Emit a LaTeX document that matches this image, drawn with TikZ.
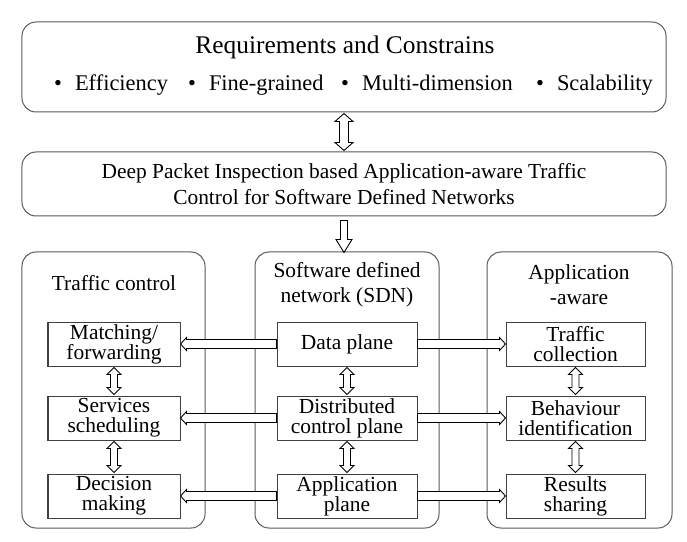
\documentclass[tikz,border=0pt]{standalone}
\usepackage{fontspec}
\setmainfont{Liberation Serif}
\usetikzlibrary{calc}
\begin{document}
\begin{tikzpicture}[x=1bp,y=-1bp,
  panel/.style={draw=black!65, rounded corners=14bp, line width=1bp, inner sep=0pt},
  box/.style={draw=black!75, line width=1bp, minimum width=133bp, minimum height=44bp, inner sep=0pt, align=center, font=\fontsize{21.5}{20}\selectfont},
  head/.style={align=center, font=\fontsize{21.5}{25}\selectfont, inner sep=0pt},
  blk/.style={draw=black, fill=white, line width=0.9bp, line join=miter},
  % horizontal single block arrow: shaft half-width, head half-width, head length
  hblock/.style n args={3}{blk, to path={let \p1=(\tikztostart),\p2=(\tikztotarget),\n1={sign(\x2-\x1)} in
     (\x1,\y1+#1) -- (\x2-\n1*#3,\y1+#1) -- (\x2-\n1*#3,\y1+#2) -- (\x2,\y1) -- (\x2-\n1*#3,\y1-#2) -- (\x2-\n1*#3,\y1-#1) -- (\x1,\y1-#1) -- cycle}},
  % vertical single block arrow
  vblock/.style n args={3}{blk, to path={let \p1=(\tikztostart),\p2=(\tikztotarget),\n1={sign(\y2-\y1)} in
     (\x1+#1,\y1) -- (\x1+#1,\y2-\n1*#3) -- (\x1+#2,\y2-\n1*#3) -- (\x1,\y2) -- (\x1-#2,\y2-\n1*#3) -- (\x1-#1,\y2-\n1*#3) -- (\x1-#1,\y1) -- cycle}},
  % vertical double-headed block arrow
  vdbl/.style n args={3}{blk, to path={let \p1=(\tikztostart),\p2=(\tikztotarget),\n1={sign(\y2-\y1)} in
     (\x1,\y1) -- (\x1+#2,\y1+\n1*#3) -- (\x1+#1,\y1+\n1*#3) -- (\x1+#1,\y2-\n1*#3) -- (\x1+#2,\y2-\n1*#3) -- (\x1,\y2)
     -- (\x1-#2,\y2-\n1*#3) -- (\x1-#1,\y2-\n1*#3) -- (\x1-#1,\y1+\n1*#3) -- (\x1-#2,\y1+\n1*#3) -- cycle}},
  item/.style={anchor=base west, inner sep=0pt, font=\fontsize{22.5}{24}\selectfont}
]
\useasboundingbox (0,0) rectangle (687,542);
% top box
\node[panel, minimum width=644bp, minimum height=90bp] (req) at (344,67) {};
\node[inner sep=0pt, font=\fontsize{25.5}{28}\selectfont] (title) at (345,47) {Requirements and Constrains};
\node[item] (b1) at (54,91) {\textbullet\hspace{13bp}Efficiency};
\node[item] (b2) at (188,91) {\textbullet\hspace{13bp}Fine-grained};
\node[item] (b3) at (341,91) {\textbullet\hspace{13bp}Multi-dimension};
\node[item] (b4) at (536,91) {\textbullet\hspace{13bp}Scalability};
% second box
\node[panel, minimum width=644bp, minimum height=64bp, align=center, font=\fontsize{21.5}{26}\selectfont] (dpi) at (344,184)
  {Deep Packet Inspection based Application-aware Traffic\\Control for Software Defined Networks};
% panels
\node[panel, minimum width=183bp, minimum height=276bp] (tcp) at (113.5,390) {};
\node[panel, minimum width=184bp, minimum height=276bp] (sdnp) at (347,390) {};
\node[panel, minimum width=185bp, minimum height=276bp] (aap) at (579.5,390) {};
\node[head] (tch) at (114,283) {Traffic control};
\node[head] (sdnh) at (347,285) {Software defined\\network (SDN)};
\node[head] (aah) at (579,285) {Application\\-aware};
% inner boxes
\node[box, minimum width=132bp] (mf) at (114,344) {Matching/\\forwarding};
\node[box, minimum width=132bp] (ss) at (114,418) {Services\\scheduling};
\node[box, minimum width=132bp] (dm) at (114,496) {Decision\\making};
\node[box, minimum width=140bp] (dp) at (347,344) {Data plane};
\node[box, minimum width=140bp] (dcp) at (347,418) {Distributed\\control plane};
\node[box, minimum width=140bp] (ap) at (347,496) {Application\\plane};
\node[box, minimum width=139bp] (tcol) at (575.5,344) {Traffic\\collection};
\node[box, minimum width=139bp] (bi) at (575.5,418) {Behaviour\\identification};
\node[box, minimum width=139bp] (rs) at (575.5,496) {Results\\sharing};
% arrows
\draw[vdbl={4.5bp}{9bp}{8bp}] ([yshift=-1bp]req.south) to ([yshift=1bp]dpi.north);
\draw[vblock={3.5bp}{8bp}{13bp}] ([yshift=-4bp]dpi.south) to ([yshift=-1bp]sdnp.north);
\draw[hblock={4.5bp}{6.5bp}{6bp}] (dp.west) to (mf.east);
\draw[hblock={4.5bp}{6.5bp}{6bp}] (dcp.west) to (ss.east);
\draw[hblock={4.5bp}{6.5bp}{6bp}] (ap.west) to (dm.east);
\draw[hblock={4.5bp}{6.5bp}{6bp}] (dp.east) to (tcol.west);
\draw[hblock={4.5bp}{6.5bp}{6bp}] (dcp.east) to (bi.west);
\draw[hblock={4.5bp}{6.5bp}{6bp}] (ap.east) to (rs.west);
\draw[vdbl={3.5bp}{7bp}{7bp}] ([yshift=-1bp]mf.south) to ([yshift=1bp]ss.north);
\draw[vdbl={3.5bp}{7bp}{7bp}] ([yshift=-1bp]ss.south) to ([yshift=1bp]dm.north);
\draw[vdbl={3.5bp}{7bp}{7bp}] ([yshift=-1bp]dp.south) to ([yshift=1bp]dcp.north);
\draw[vdbl={3.5bp}{7bp}{7bp}] ([yshift=-1bp]dcp.south) to ([yshift=1bp]ap.north);
\draw[vdbl={3.5bp}{7bp}{7bp}] ([yshift=-1bp]tcol.south) to ([yshift=1bp]bi.north);
\draw[vdbl={3.5bp}{7bp}{7bp}] ([yshift=-1bp]bi.south) to ([yshift=1bp]rs.north);
\end{tikzpicture}
\end{document}
